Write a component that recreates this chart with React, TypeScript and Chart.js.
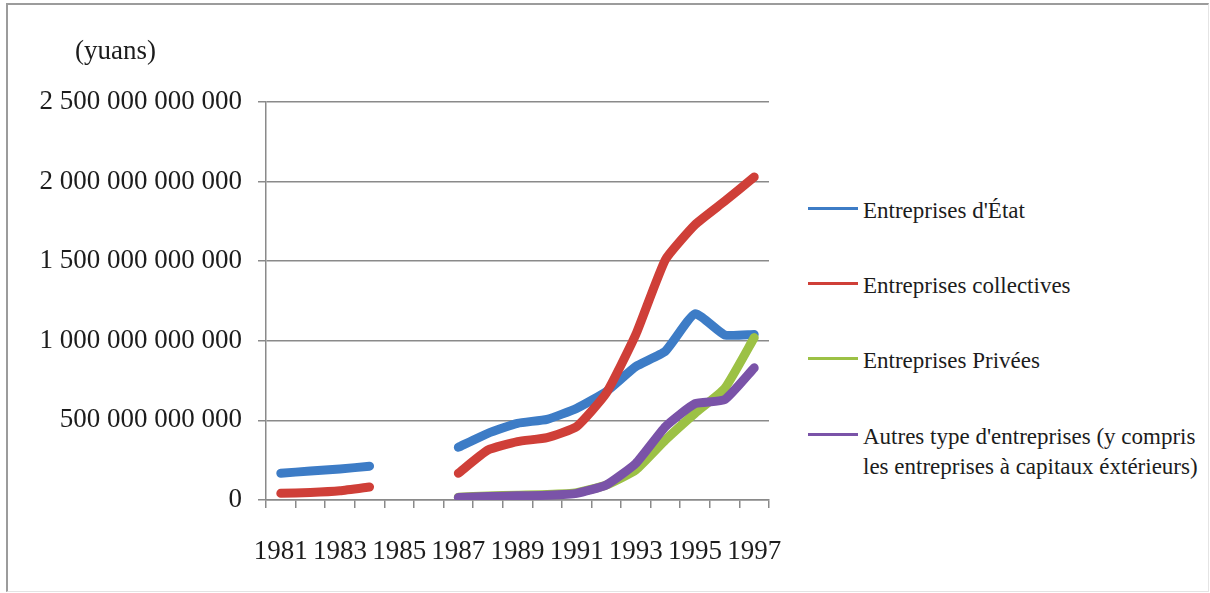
import React, { useEffect, useRef } from "react";
import { Chart, registerables } from "chart.js";

Chart.register(...registerables);

// Categories (years)
const years = [
  "1981", "1982", "1983", "1984", "1985", "1986", "1987", "1988", "1989",
  "1990", "1991", "1992", "1993", "1994", "1995", "1996", "1997",
];

// Values in billions of yuan (null = no data)
const entreprisesEtat = [168, 182, 195, 212, null, null, 331, 419, 482, 507, 576, 681, 838, 935, 1170, 1037, 1040];
const entreprisesCollectives = [42, 47, 58, 82, null, null, 168, 314, 367, 392, 461, 671, 1040, 1510, 1729, 1876, 2029];
const entreprisesPrivees = [null, null, null, null, null, null, 18, 25, 30, 34, 46, 94, 189, 377, 545, 700, 1020];
const autresEntreprises = [null, null, null, null, null, null, 16, 22, 26, 30, 42, 94, 230, 461, 605, 630, 830];

const seriesNames = [
  ["Entreprises d'État"],
  ["Entreprises collectives"],
  ["Entreprises Privées"],
  ["Autres type d'entreprises (y compris", "les entreprises à capitaux éxtérieurs)"],
];
const seriesColors = ["#3D7CC6", "#CF3F38", "#9CC145", "#7A53A8"];
const seriesValues = [entreprisesEtat, entreprisesCollectives, entreprisesPrivees, autresEntreprises];

const yMax = 2500; // billions
const yStep = 500; // billions
const unitTitle = "(yuans)";

const FONT = "'Liberation Serif', 'Times New Roman', serif";
const GRID = "#8a8a8a";
const TEXT = "#1c1c1c";

function formatYuan(v: number): string {
  return Math.round(v)
    .toString()
    .replace(/\B(?=(\d{3})+(?!\d))/g, " ");
}

export default function App() {
  const canvasRef = useRef<HTMLCanvasElement | null>(null);

  useEffect(() => {
    const canvas = canvasRef.current;
    if (!canvas) return;
    const chart = new Chart(canvas, {
      type: "line",
      data: {
        labels: years,
        datasets: seriesValues.map((vals, i) => ({
          label: seriesNames[i].join(" "),
          data: vals.map((v) => (v == null ? null : v * 1e9)),
          order: seriesValues.length - 1 - i,
          borderColor: seriesColors[i],
          backgroundColor: seriesColors[i],
          borderWidth: 9,
          pointRadius: 0,
          pointHoverRadius: 0,
          tension: 0.15,
          borderCapStyle: "round",
          borderJoinStyle: "round",
          spanGaps: false,
          fill: false,
        })),
      },
      options: {
        responsive: false,
        animation: false,
        devicePixelRatio: 1,
        layout: { padding: { left: 0, top: 102, right: 21, bottom: 0 } },
        plugins: {
          legend: { display: false },
          tooltip: { enabled: false },
          title: { display: false },
        },
        scales: {
          x: {
            type: "category",
            offset: true,
            grid: {
              offset: true,
              drawOnChartArea: false,
              drawTicks: true,
              tickLength: 8,
              color: GRID,
              lineWidth: 1.5,
            },
            border: { display: true, color: GRID, width: 1.5 },
            ticks: {
              autoSkip: false,
              maxRotation: 0,
              minRotation: 0,
              padding: 28,
              color: TEXT,
              font: { family: FONT, size: 27 },
              callback: (_v: any, i: number) => (i % 2 === 0 ? years[i] : ""),
            },
            afterFit: (s: any) => {
              s.height = 93;
              s.paddingLeft = 0;
              s.paddingRight = 0;
            },
          },
          y: {
            min: 0,
            max: yMax * 1e9,
            ticks: {
              stepSize: yStep * 1e9,
              padding: 16,
              color: TEXT,
              font: { family: FONT, size: 27 },
              callback: (v: any) => formatYuan(Number(v)),
            },
            grid: {
              color: GRID,
              lineWidth: 1.5,
              drawTicks: true,
              tickLength: 8,
            },
            border: { display: true, color: GRID, width: 1.5 },
            afterFit: (s: any) => {
              s.width = 266;
              s.paddingTop = 0;
              s.paddingBottom = 0;
            },
          },
        },
      },
    } as any);
    return () => chart.destroy();
  }, []);

  const legendTops = [196, 271, 346, 422];

  return (
    <div
      style={{
        position: "absolute",
        left: 0,
        top: 0,
        width: 1210,
        height: 593,
        background: "#ffffff",
        overflow: "hidden",
        fontFamily: FONT,
      }}
    >
      <div
        style={{
          position: "absolute",
          left: 6,
          top: 3,
          width: 1200,
          height: 586,
          borderTop: "2px solid #9c9c9c",
          borderLeft: "2px solid #9c9c9c",
          borderRight: "1px solid #e4e4e4",
          borderBottom: "1px solid #e4e4e4",
        }}
      />
      <canvas
        ref={canvasRef}
        width={790}
        height={593}
        style={{ position: "absolute", left: 0, top: 0, width: 790, height: 593 }}
      />
      <div
        style={{
          position: "absolute",
          left: 75,
          top: 35,
          fontSize: 27,
          lineHeight: "30px",
          color: TEXT,
          whiteSpace: "nowrap",
        }}
      >
        {unitTitle}
      </div>
      {seriesNames.map((lines, i) => (
        <div
          key={i}
          style={{
            position: "absolute",
            left: 808,
            top: legendTops[i],
            display: "flex",
            alignItems: "flex-start",
          }}
        >
          <div
            style={{
              width: 50,
              height: 3,
              marginTop: 11,
              background: seriesColors[i],
              flex: "none",
            }}
          />
          <div
            style={{
              marginLeft: 5,
              fontSize: 23,
              lineHeight: "30px",
              color: TEXT,
              whiteSpace: "nowrap",
            }}
          >
            {lines.map((t, j) => (
              <div key={j}>{t}</div>
            ))}
          </div>
        </div>
      ))}
    </div>
  );
}
